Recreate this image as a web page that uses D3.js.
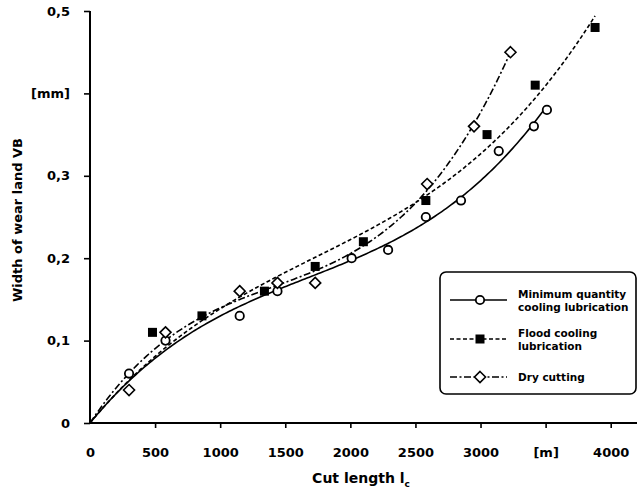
<!DOCTYPE html>
<html><head><meta charset="utf-8">
<script src="https://cdn.jsdelivr.net/npm/d3@7"></script>
<style>body{margin:0;background:#fff}svg{display:block}text{font-family:"DejaVu Sans",sans-serif;font-weight:bold;fill:#000}</style>
</head><body>
<script>
// Data
const mqlX = [300, 580, 1150, 1440, 2010, 2290, 2580, 2850, 3140, 3410, 3510];
const mqlY = [0.06, 0.10, 0.13, 0.16, 0.20, 0.21, 0.25, 0.27, 0.33, 0.36, 0.38];
const floodX = [480, 860, 1340, 1730, 2100, 2580, 3050, 3420, 3880];
const floodY = [0.11, 0.13, 0.16, 0.19, 0.22, 0.27, 0.35, 0.41, 0.48];
const dryX = [300, 580, 1150, 1440, 1730, 2590, 2950, 3230];
const dryY = [0.04, 0.11, 0.16, 0.17, 0.17, 0.29, 0.36, 0.45];
const xTicks = [0, 500, 1000, 1500, 2000, 2500, 3000, 3500, 4000];
const xTickLabels = ["0", "500", "1000", "1500", "2000", "2500", "3000", "[m]", "4000"];
const yTicks = [0, 0.1, 0.2, 0.3, 0.4, 0.5];
const yTickLabels = ["0", "0,1", "0,2", "0,3", "[mm]", "0,5"];
const legendLabels = [["Minimum quantity", "cooling lubrication"], ["Flood cooling", "lubrication"], ["Dry cutting"]];

const W = 639, H = 493;
const FONT = '"DejaVu Sans",sans-serif';
const svg = d3.select("body").append("svg").attr("width", W).attr("height", H);
const x = d3.scaleLinear().domain([0, 4000]).range([90, 610.7]);
const y = d3.scaleLinear().domain([0, 0.5]).range([423, 11]);

// least squares polynomial through origin (trend line, like the original)
function fit(xs, ys, deg) {
  const n = deg;
  const A = Array.from({length: n}, () => new Array(n + 1).fill(0));
  xs.forEach((xv, k) => {
    const t = xv / 1000;
    const p = d3.range(1, n + 1).map(e => Math.pow(t, e));
    for (let i = 0; i < n; i++) {
      for (let j = 0; j < n; j++) A[i][j] += p[i] * p[j];
      A[i][n] += p[i] * ys[k];
    }
  });
  for (let i = 0; i < n; i++) {
    let m = i;
    for (let r = i + 1; r < n; r++) if (Math.abs(A[r][i]) > Math.abs(A[m][i])) m = r;
    [A[i], A[m]] = [A[m], A[i]];
    for (let r = 0; r < n; r++) if (r !== i) {
      const f = A[r][i] / A[i][i];
      for (let c = i; c <= n; c++) A[r][c] -= f * A[i][c];
    }
  }
  const coef = A.map((row, i) => row[n] / row[i]);
  return xv => { const t = xv / 1000; return coef.reduce((s, c, i) => s + c * Math.pow(t, i + 1), 0); };
}

const series = [
  {xs: mqlX, ys: mqlY, dash: null, marker: "circle"},
  {xs: floodX, ys: floodY, dash: "4,2.5", marker: "square"},
  {xs: dryX, ys: dryY, dash: "7,2.5,2,2.5", marker: "diamond"}
];

// axes
const gx = svg.append("g").attr("transform", `translate(0,${y(0)})`)
  .call(d3.axisBottom(x).tickValues(xTicks).tickFormat((d, i) => xTickLabels[i]).tickSize(5).tickPadding(20));
gx.select(".domain").attr("d", `M${x(0)},0H637`);
const gy = svg.append("g").attr("transform", `translate(${x(0)},0)`)
  .call(d3.axisLeft(y).tickValues(yTicks).tickFormat((d, i) => yTickLabels[i]).tickSize(6).tickPadding(14));
gy.select(".domain").attr("d", `M0,${y(0.5)}V${y(0)}`);
[gx, gy].forEach(g => {
  g.selectAll(".domain").attr("stroke", "#000").attr("stroke-width", 2);
  g.selectAll(".tick line").attr("stroke", "#000").attr("stroke-width", 1.6);
  g.selectAll(".tick text").style("font-size", "13px").style("font-weight", "bold").attr("fill", "#000")
    .style("font-family", FONT);
});
gx.select(".tick line").remove();

// curves
series.forEach(s => {
  const f = fit(s.xs, s.ys, 3);
  const xmax = d3.max(s.xs);
  const pts = d3.range(0, 201).map(i => [xmax * i / 200, f(xmax * i / 200)]);
  svg.append("path").attr("d", d3.line().x(d => x(d[0])).y(d => y(d[1]))(pts))
    .attr("fill", "none").attr("stroke", "#000").attr("stroke-width", 1.6)
    .attr("stroke-dasharray", s.dash);
});

function drawMarker(g, type, cx, cy) {
  if (type === "circle") g.append("circle").attr("cx", cx).attr("cy", cy).attr("r", 4.2)
    .attr("fill", "#fff").attr("stroke", "#000").attr("stroke-width", 1.8);
  else if (type === "square") g.append("rect").attr("x", cx - 4.5).attr("y", cy - 4.5).attr("width", 9).attr("height", 9)
    .attr("fill", "#000");
  else g.append("path").attr("d", `M${cx},${cy - 5.5}L${cx + 5.5},${cy}L${cx},${cy + 5.5}L${cx - 5.5},${cy}Z`)
    .attr("fill", "#fff").attr("stroke", "#000").attr("stroke-width", 1.6);
}
series.forEach(s => {
  s.xs.forEach((xv, i) => drawMarker(svg, s.marker, x(xv), y(s.ys[i])));
});

// axis titles
svg.append("text").attr("x", 361).attr("y", 483).attr("text-anchor", "middle").style("font-size", "14px")
  .text("Cut length l").append("tspan").attr("dy", 4).style("font-size", "9px").text("c");
svg.append("text").attr("transform", "translate(22,220) rotate(-90)").attr("text-anchor", "middle")
  .style("font-size", "13px").text("Width of wear land VB");

// legend
const lg = svg.append("g");
lg.append("rect").attr("x", 440).attr("y", 272).attr("width", 196).attr("height", 122).attr("rx", 6)
  .attr("fill", "#fff").attr("stroke", "#000").attr("stroke-width", 1.6);
const rowsY = [300, 339, 377];
series.forEach((s, i) => {
  lg.append("line").attr("x1", 450).attr("x2", 507).attr("y1", rowsY[i]).attr("y2", rowsY[i])
    .attr("stroke", "#000").attr("stroke-width", 1.4).attr("stroke-dasharray", s.dash);
  drawMarker(lg, s.marker, 480, rowsY[i]);
  const lines = legendLabels[i];
  const t = lg.append("text").attr("x", 518).style("font-size", "10.5px");
  lines.forEach((l, k) => t.append("tspan").attr("x", 518)
    .attr("y", rowsY[i] + 4 + (k - (lines.length - 1) / 2) * 13).text(l));
});
</script>
</body></html>
